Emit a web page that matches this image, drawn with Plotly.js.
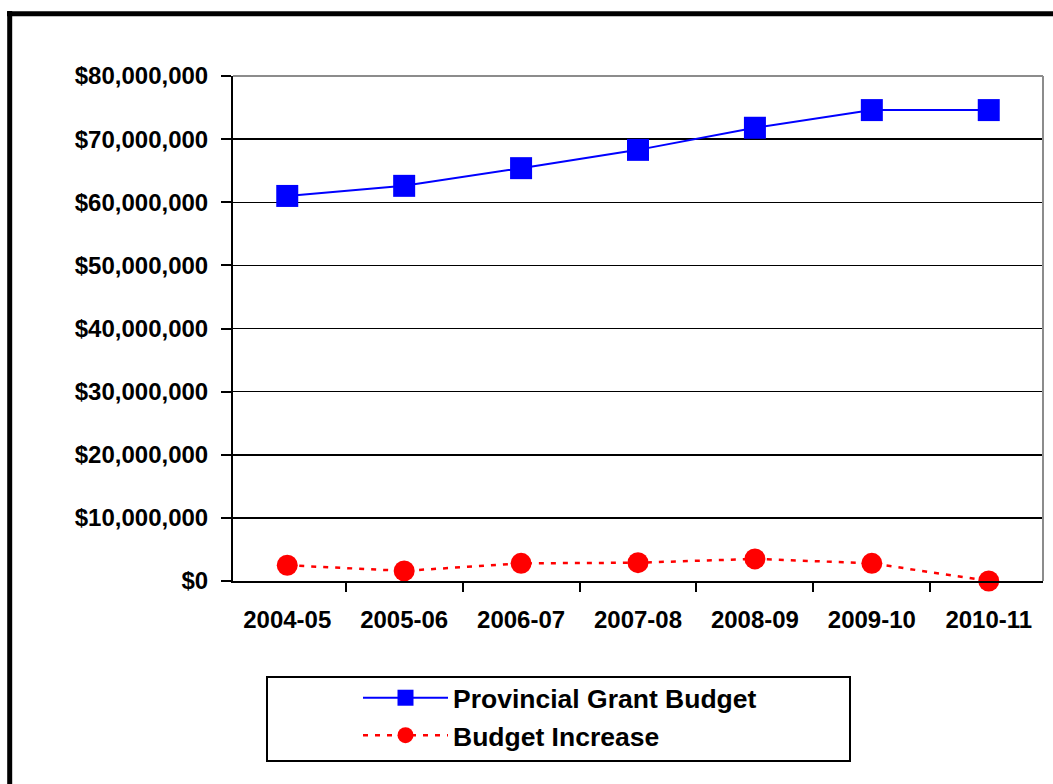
<!DOCTYPE html>
<html>
<head>
<meta charset="utf-8">
<script src="https://cdn.plot.ly/plotly-3.0.1.min.js"></script>
<style>
html,body{margin:0;padding:0;background:#fff;}
#chart{width:1053px;height:784px;}
</style>
</head>
<body>
<div id="chart"></div>
<script>
var categories = ["2004-05","2005-06","2006-07","2007-08","2008-09","2009-10","2010-11"];
var grantBudget = [61000000, 62600000, 65400000, 68300000, 71800000, 74600000, 74600000];
var budgetIncrease = [2500000, 1600000, 2800000, 2900000, 3500000, 2800000, 0];
var seriesNames = ["Provincial Grant Budget", "Budget Increase"];

var FONT = 'Arial, "Liberation Sans", sans-serif';

// plot area in pixels
var L = 233, R = 10, T = 76, B = 203, W = 1053, H = 784;
var pw = W - L - R, ph = H - T - B;
function px(x){ return (x - L) / pw; }
function py(y){ return (H - B - y) / ph; }

var traces = [
  {
    x: categories, y: grantBudget, name: seriesNames[0], type: 'scatter', mode: 'lines+markers',
    line: {color: '#0000FF', width: 2},
    marker: {symbol: 'square', size: 22, color: '#0000FF'},
    legendgroup: 'a', cliponaxis: false
  },
  {
    x: categories, y: budgetIncrease, name: seriesNames[1], type: 'scatter', mode: 'lines+markers',
    line: {color: '#FF0000', width: 2.5, dash: '5px,7px'},
    marker: {symbol: 'circle', size: 21, color: '#FF0000'},
    legendgroup: 'b', cliponaxis: false
  }
];

var layout = {
  width: W, height: H,
  margin: {l: L, r: R, t: T, b: B, pad: 0},
  paper_bgcolor: '#ffffff', plot_bgcolor: '#ffffff',
  font: {family: FONT, size: 24, color: '#000', weight: 'bold'},
  showlegend: true,
  legend: {
    x: px(358), y: py(674), xanchor: 'left', yanchor: 'top',
    bgcolor: 'rgba(0,0,0,0)', borderwidth: 0,
    font: {family: FONT, size: 26.5, color: '#000', weight: 'bold'},
    itemwidth: 85, tracegroupgap: 7, traceorder: 'normal'
  },
  xaxis: {
    type: 'category', showgrid: false, showline: true, linecolor: '#000', linewidth: 2,
    ticks: 'outside', ticklen: 9, tickwidth: 2, tickcolor: '#000', tickson: 'boundaries',
    ticklabelstandoff: 16, zeroline: false,
    tickfont: {family: FONT, size: 24, color: '#000', weight: 'bold'}
  },
  yaxis: {
    range: [0, 80000000], dtick: 10000000, tick0: 0, tickformat: '$,.0f',
    showgrid: true, gridcolor: '#000', gridwidth: 1.5,
    showline: true, linecolor: '#000', linewidth: 2, zeroline: false,
    ticks: 'outside', ticklen: 10, tickwidth: 2, tickcolor: '#000',
    ticklabelstandoff: 8,
    tickfont: {family: FONT, size: 24, color: '#000', weight: 'bold'}
  },
  shapes: [
    // gray top & right plot border
    {type: 'line', xref: 'paper', yref: 'paper', x0: 0, x1: 1, y0: 1, y1: 1, line: {color: '#8c8c8c', width: 2}, layer: 'above'},
    {type: 'line', xref: 'paper', yref: 'paper', x0: 1, x1: 1, y0: 0, y1: 1, line: {color: '#8c8c8c', width: 2}, layer: 'above'},
    // outer black frame (top and left)
    {type: 'line', xref: 'paper', yref: 'paper', x0: px(7), x1: px(1080), y0: py(13.7), y1: py(13.7), line: {color: '#000', width: 5}},
    {type: 'line', xref: 'paper', yref: 'paper', x0: px(9.7), x1: px(9.7), y0: py(11), y1: py(820), line: {color: '#000', width: 5}},
    // legend box
    {type: 'rect', xref: 'paper', yref: 'paper', x0: px(267), x1: px(850), y0: py(761), y1: py(677), line: {color: '#000', width: 2}}
  ]
};

Plotly.newPlot('chart', traces, layout, {displayModeBar: false, staticPlot: true});
</script>
</body>
</html>
